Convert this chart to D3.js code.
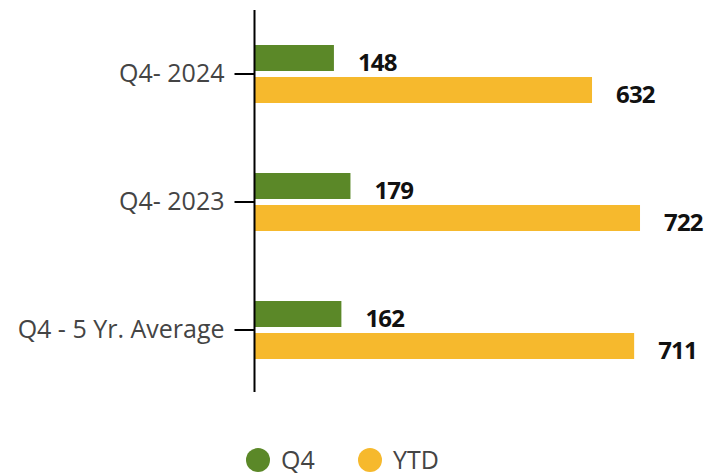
<!DOCTYPE html>
<html>
<head>
<meta charset="utf-8">
<script src="https://cdn.jsdelivr.net/npm/d3@7"></script>
<style>
  body { margin: 0; background: #fff; }
  svg { display: block; font-family: "Open Sans", "Noto Sans", sans-serif; }
</style>
</head>
<body>
<svg id="vis" width="720" height="475"></svg>
<script>
// categories + series
const categories = ["Q4- 2024", "Q4- 2023", "Q4 - 5 Yr. Average"];
const seriesNames = ["Q4", "YTD"];
const q4Values = [148, 179, 162];
const ytdValues = [632, 722, 711];
const colors = ["#5b8828", "#f6b92d"];

const svg = d3.select("#vis");

// y scale for the groups
const y0 = d3.scaleBand()
    .domain(categories)
    .range([10, 394])
    .padding(0);

// y scale inside each group
const y1 = d3.scaleBand()
    .domain(seriesNames)
    .range([35, 93])
    .paddingInner(0.1875)
    .paddingOuter(0);

// x scale
const x = d3.scaleLinear()
    .domain([0, 872])
    .range([255, 720]);

const rows = categories.map((c, i) => ({
    cat: c,
    vals: [
        {s: "Q4", v: q4Values[i]},
        {s: "YTD", v: ytdValues[i]}
    ]
}));

// bars
const g = svg.selectAll(".grp")
    .data(rows)
    .enter()
    .append("g")
    .attr("class", "grp")
    .attr("transform", d => "translate(0," + y0(d.cat) + ")");

g.selectAll("rect")
    .data(d => d.vals)
    .enter()
    .append("rect")
    .attr("x", x(0))
    .attr("y", d => y1(d.s))
    .attr("width", d => x(d.v) - x(0))
    .attr("height", y1.bandwidth())
    .attr("fill", (d, i) => colors[i]);

// data labels
g.selectAll(".lbl")
    .data(d => d.vals)
    .enter()
    .append("text")
    .attr("class", "lbl")
    .attr("x", d => x(d.v) + 24)
    .attr("y", d => y1(d.s) + y1.bandwidth())
    .attr("font-size", 24)
    .attr("font-weight", "bold")
    .attr("fill", "#111")
    .attr("letter-spacing", -0.8)
    .text(d => d.v);

// y axis
const yAxis = svg.append("g")
    .attr("transform", "translate(254.5,0)")
    .call(d3.axisLeft(y0).tickSize(20).tickPadding(10));
yAxis.select(".domain")
    .attr("d", "M0,10V392")
    .attr("stroke", "#000")
    .attr("stroke-width", 2);
yAxis.selectAll(".tick line")
    .attr("stroke", "#000")
    .attr("stroke-width", 2);
yAxis.selectAll(".tick text")
    .attr("font-size", 25)
    .attr("font-family", "'Open Sans', 'Noto Sans', sans-serif")
    .attr("fill", "#444");

// legend
const legend = svg.append("g");
const legX = [258, 370];
seriesNames.forEach((s, i) => {
    legend.append("circle")
        .attr("cx", legX[i])
        .attr("cy", 460)
        .attr("r", 12)
        .attr("fill", colors[i]);
    legend.append("text")
        .attr("x", legX[i] + 23)
        .attr("y", 469)
        .attr("font-size", 25)
        .attr("fill", "#444")
        .text(s);
});
</script>
</body>
</html>
